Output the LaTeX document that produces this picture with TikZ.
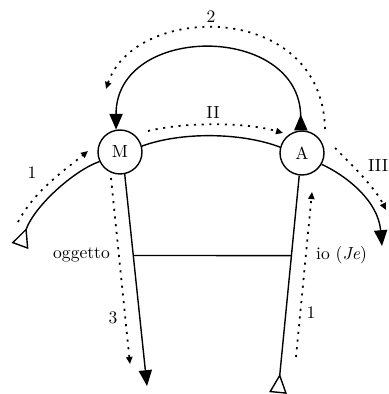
\documentclass[tikz,border=0pt]{standalone}
\usepackage{tikz}
\usetikzlibrary{arrows.meta}

\tikzset{
  actant/.style={circle,draw,line width=0.8pt,minimum size=0.88cm,inner sep=0pt},
  flow/.style={line width=0.8pt},
  trace/.style={line width=1pt,dash pattern=on 1.2pt off 3.2pt,
    -{Triangle[length=4pt,width=3.5pt]}},
  bigtip/.style={-{Triangle[length=9pt,width=7.5pt]}},
  opentip/.style={-{Triangle[open,reversed,length=11pt,width=10pt,line width=0.8pt]}}
}

\begin{document}
\begin{tikzpicture}[x=0.02cm,y=-0.02cm]
  \useasboundingbox (0,0) rectangle (388,394);
  % actants
  \node[actant] (M) at (120,152) {M};
  \node[actant] (A) at (302,153) {A};
  % free ends
  \coordinate (lend) at (20,246);
  \coordinate (rend) at (382,246);
  \coordinate (mend) at (147,386);
  \coordinate (aend) at (278,393);
  % solid lines
  \draw[flow,{Triangle[reversed,length=9pt,width=7.5pt]}-{Triangle[length=9pt,width=7.5pt]}]
    (A.93) .. controls (300,23) and (116,23) .. (M.100);
  \draw[flow] (M.15) .. controls (180,132) and (240,132) .. (A.165);
  \draw[flow,opentip] (M.205) .. controls (75,170) and (35,205) .. (lend);
  \draw[flow,bigtip] (A.-30) .. controls (345,175) and (378,200) .. (rend);
  \draw[flow,bigtip] (M.-78) -- coordinate[pos=0.384] (mo) (mend);
  \draw[flow,opentip] (A.-97) -- coordinate[pos=0.368] (ao) (aend);
  \draw[flow] (mo) -- (ao);
  % dotted traces
  \coordinate (t2s) at (325,129);
  \coordinate (t2e) at (106,89);
  \draw[trace] (t2s) .. controls (322,0) and (135,3) .. (t2e);
  \coordinate (tIIs) at (148,131);
  \coordinate (tIIe) at (283,133);
  \draw[trace] (tIIs) .. controls (185,122) and (245,122) .. (tIIe);
  \coordinate (t1s) at (18,222);
  \coordinate (t1e) at (88,151);
  \draw[trace] (t1s) .. controls (35,190) and (65,170) .. (t1e);
  \coordinate (tIIIs) at (335,148);
  \coordinate (tIIIe) at (386,210);
  \draw[trace] (tIIIs) .. controls (355,168) and (375,188) .. (tIIIe);
  \coordinate (t3s) at (111,178);
  \coordinate (t3e) at (130,364);
  \draw[trace] (t3s) -- (t3e);
  \coordinate (tios) at (296,357);
  \coordinate (tioe) at (312,192);
  \draw[trace] (tios) -- (tioe);
  % labels
  \node (l2) at (211,17) {2};
  \node (lII) at (213,113) {II};
  \node (l1a) at (32,173) {1};
  \node[anchor=west,inner sep=1pt] (lIII) at (366,166) {III};
  \node[anchor=east] (lobj) at (116,255) {oggetto};
  \node[anchor=west] (lio) at (310,255) {io (\textit{Je})};
  \node (l3) at (113,318) {3};
  \node (l1b) at (311,313) {1};
\end{tikzpicture}
\end{document}
